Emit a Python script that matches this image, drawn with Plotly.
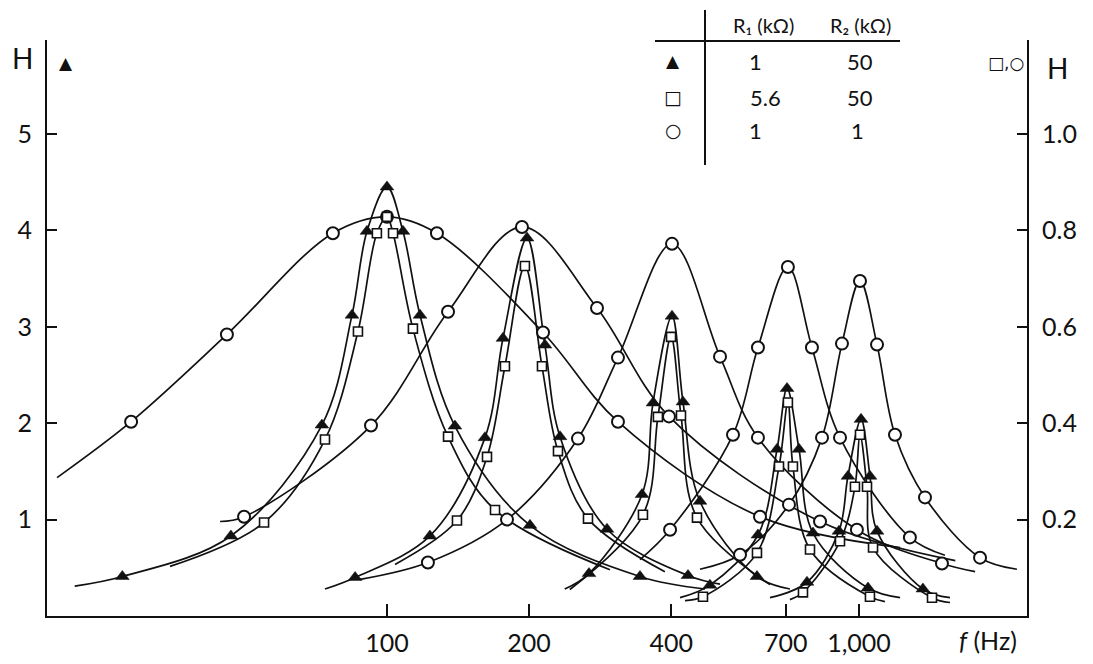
import plotly.graph_objects as go

# ---------------- data ----------------
RES_FREQS = [100, 200, 400, 700, 1000]          # resonance frequencies (Hz)
X_TICKS = [100, 200, 400, 700, 1000]
X_TICKTEXT = ["100", "200", "400", "700", "1,000"]
Y_LEFT_TICKS = [1, 2, 3, 4, 5]
Y_RIGHT_TICKS = [0.2, 0.4, 0.6, 0.8, 1.0]
Y_RIGHT_TICKTEXT = ["0.2", "0.4", "0.6", "0.8", "1.0"]

# ▲  R1 = 1 kΩ, R2 = 50 kΩ  (left axis H)
tri_f_100 = [27.5, 46.7, 72.8, 84.3, 90.7, 100, 108.1, 117.5, 139.3, 200.9, 343.6]
tri_h_100 = [0.41, 0.83, 1.98, 3.12, 3.99, 4.45, 3.99, 3.12, 1.97, 0.94, 0.41]
tri_ends_f_100 = [21.8, 472]
tri_ends_h_100 = [0.31, 0.28]

tri_f_200 = [85.6, 123.3, 161.3, 176.1, 198, 216.1, 232.6, 292.5, 434.3]
tri_h_200 = [0.40, 0.83, 1.85, 2.88, 3.92, 2.81, 1.86, 0.90, 0.42]
tri_ends_f_200 = [73.9, 507.7]
tri_ends_h_200 = [0.28, 0.33]

tri_f_400 = [267.9, 347, 366.1, 401.7, 423.8, 460.4, 608]
tri_h_400 = [0.44, 1.26, 2.21, 3.11, 2.22, 1.19, 0.41]
tri_ends_f_400 = [238, 714]
tri_ends_h_400 = [0.28, 0.28]

tri_f_700 = [483.3, 610.9, 670.6, 704, 746.4, 799, 1045]
tri_h_700 = [0.32, 0.84, 1.73, 2.36, 1.73, 0.86, 0.29]
tri_ends_f_700 = [417.7, 1222]
tri_ends_h_700 = [0.19, 0.19]

tri_f_1000 = [776, 907, 947.8, 1010, 1055, 1092, 1366]
tri_h_1000 = [0.35, 0.88, 1.45, 2.04, 1.45, 0.88, 0.28]
tri_ends_f_1000 = [647.8, 1559]
tri_ends_h_1000 = [0.19, 0.19]

# □  R1 = 5.6 kΩ, R2 = 50 kΩ  (right axis H)
sq_f_100 = [54.9, 73.9, 86.8, 95.2, 100, 103, 113.5, 134.7, 169.4]
sq_h_100 = [0.194, 0.366, 0.59, 0.794, 0.828, 0.794, 0.596, 0.372, 0.22]
sq_ends_f_100 = [34.7, 296.8]
sq_ends_h_100 = [0.103, 0.096]

sq_f_200 = [140.7, 162.9, 177.8, 196, 213, 230.3, 266.6]
sq_h_200 = [0.198, 0.33, 0.518, 0.726, 0.518, 0.342, 0.202]
sq_ends_f_200 = [104, 388]
sq_ends_h_200 = [0.107, 0.092]

sq_f_400 = [348.6, 375, 399.8, 419.7, 453.7]
sq_h_400 = [0.21, 0.413, 0.579, 0.416, 0.204]
sq_ends_f_400 = [244, 647.8]
sq_ends_h_400 = [0.055, 0.065]

sq_f_700 = [467.2, 608, 677, 707, 724.6, 787.5, 1055]
sq_h_700 = [0.04, 0.131, 0.31, 0.443, 0.31, 0.138, 0.04]
sq_ends_f_700 = [427.9, 1135]
sq_ends_h_700 = [0.032, 0.03]

sq_f_1000 = [761, 911.6, 980.6, 1005, 1040, 1071, 1428]
sq_h_1000 = [0.049, 0.155, 0.268, 0.376, 0.268, 0.142, 0.038]
sq_ends_f_1000 = [714, 1559]
sq_ends_h_1000 = [0.034, 0.028]

# ○  R1 = 1 kΩ, R2 = 1 kΩ  (right axis H)
ci_f_100 = [28.7, 45.8, 76.8, 100, 127.6, 214.1, 308.6, 617]
ci_h_100 = [0.403, 0.584, 0.794, 0.828, 0.794, 0.588, 0.403, 0.206]
ci_ends_f_100 = [20.0, 1222]
ci_ends_h_100 = [0.287, 0.142]

ci_f_200 = [49.8, 92.5, 134.7, 193.2, 278.6, 395.8, 827]
ci_h_200 = [0.206, 0.395, 0.631, 0.807, 0.639, 0.414, 0.196]
ci_ends_f_200 = [44.3, 1600]
ci_ends_h_200 = [0.196, 0.115]

ci_f_400 = [122.1, 179.6, 253.9, 308.6, 401.7, 507.7, 610.9, 990, 1499]
ci_h_400 = [0.111, 0.2, 0.368, 0.536, 0.772, 0.538, 0.37, 0.179, 0.109]
ci_ends_f_400 = [87.7, 1762]
ci_ends_h_400 = [0.076, 0.092]

ci_f_700 = [397.9, 540.9, 610.9, 707, 795, 911.6, 1282]
ci_h_700 = [0.179, 0.376, 0.557, 0.724, 0.557, 0.37, 0.163]
ci_ends_f_700 = [343.6, 1521]
ci_ends_h_700 = [0.117, 0.126]

ci_f_1000 = [559.7, 710.7, 835, 920.4, 1005, 1092, 1192, 1380, 1805]
ci_h_1000 = [0.127, 0.231, 0.37, 0.565, 0.695, 0.563, 0.376, 0.246, 0.121]
ci_ends_f_1000 = [460.4, 2161]
ci_ends_h_1000 = [0.097, 0.097]

TRI = [(tri_f_100, tri_h_100, tri_ends_f_100, tri_ends_h_100),
       (tri_f_200, tri_h_200, tri_ends_f_200, tri_ends_h_200),
       (tri_f_400, tri_h_400, tri_ends_f_400, tri_ends_h_400),
       (tri_f_700, tri_h_700, tri_ends_f_700, tri_ends_h_700),
       (tri_f_1000, tri_h_1000, tri_ends_f_1000, tri_ends_h_1000)]
SQ = [(sq_f_100, sq_h_100, sq_ends_f_100, sq_ends_h_100),
      (sq_f_200, sq_h_200, sq_ends_f_200, sq_ends_h_200),
      (sq_f_400, sq_h_400, sq_ends_f_400, sq_ends_h_400),
      (sq_f_700, sq_h_700, sq_ends_f_700, sq_ends_h_700),
      (sq_f_1000, sq_h_1000, sq_ends_f_1000, sq_ends_h_1000)]
CI = [(ci_f_100, ci_h_100, ci_ends_f_100, ci_ends_h_100),
      (ci_f_200, ci_h_200, ci_ends_f_200, ci_ends_h_200),
      (ci_f_400, ci_h_400, ci_ends_f_400, ci_ends_h_400),
      (ci_f_700, ci_h_700, ci_ends_f_700, ci_ends_h_700),
      (ci_f_1000, ci_h_1000, ci_ends_f_1000, ci_ends_h_1000)]

INK = "#111111"
FONT = "Lato, 'DejaVu Sans', sans-serif"
SYM_FONT = "'DejaVu Sans', sans-serif"

fig = go.Figure()


def line_points(f, h, ef, eh):
    pts = sorted(zip([ef[0]] + f + [ef[1]], [eh[0]] + h + [eh[1]]))
    return [p[0] for p in pts], [p[1] for p in pts]


# curves (lines)
for group, axis in ((TRI, "y"), (SQ, "y2"), (CI, "y2")):
    for f, h, ef, eh in group:
        lx, ly = line_points(f, h, ef, eh)
        fig.add_trace(go.Scatter(x=lx, y=ly, mode="lines", yaxis=axis,
                                 line=dict(color=INK, width=1.7, shape="spline", smoothing=1.0),
                                 hoverinfo="skip", showlegend=False))

# markers
for f, h, ef, eh in CI:
    fig.add_trace(go.Scatter(x=f, y=h, mode="markers", yaxis="y2",
                             marker=dict(symbol="circle", size=12, color="white",
                                         line=dict(color=INK, width=2)),
                             showlegend=False))
for f, h, ef, eh in SQ:
    fig.add_trace(go.Scatter(x=f, y=h, mode="markers", yaxis="y2",
                             marker=dict(symbol="square", size=9, color="white",
                                         line=dict(color=INK, width=1.6)),
                             showlegend=False))
for f, h, ef, eh in TRI:
    fig.add_trace(go.Scatter(x=f, y=h, mode="markers", yaxis="y",
                             marker=dict(symbol="triangle-up", size=12, color=INK,
                                         line=dict(color=INK, width=0.5)),
                             showlegend=False))

# ---------------- layout ----------------
# plot-area edges in screen pixels; the page body adds an 8 px offset
OFF = 8
L, R, T, B = 47, 1027, 40, 616
W, H = 1093 - OFF, 664 - OFF


def px(x):
    return (x - L) / (R - L)


def py(y):
    return (B - y) / (B - T)


fig.update_layout(
    width=W, height=H,
    margin=dict(l=L - OFF, r=W - (R - OFF), t=T - OFF, b=H - (B - OFF), autoexpand=False),
    paper_bgcolor="white", plot_bgcolor="white",
    font=dict(family=FONT, color=INK, size=22),
    xaxis=dict(type="log", range=[1.2797, 3.356], tickvals=X_TICKS, ticktext=X_TICKTEXT,
               ticks="inside", ticklen=12, tickwidth=2, tickcolor=INK, automargin=False,
               showline=True, linecolor=INK, linewidth=2, showgrid=False, zeroline=False,
               tickfont=dict(size=25, family=FONT), ticklabelstandoff=4),
    yaxis=dict(range=[0, 5.974], tickvals=Y_LEFT_TICKS, ticks="inside", ticklen=10,
               tickwidth=2, tickcolor=INK, showline=True, linecolor=INK, linewidth=2,
               showgrid=False, zeroline=False, tickfont=dict(size=25, family=FONT),
               ticklabelstandoff=8, automargin=False),
    yaxis2=dict(range=[0, 5.974 / 5], overlaying="y", side="right",
                tickvals=Y_RIGHT_TICKS, ticktext=Y_RIGHT_TICKTEXT,
                ticks="inside", ticklen=10, tickwidth=2, tickcolor=INK, automargin=False,
                showline=True, linecolor=INK, linewidth=2, showgrid=False, zeroline=False,
                tickfont=dict(size=25, family=FONT), ticklabelstandoff=8),
    showlegend=False,
)

ann = []


def text(x, y, s, size=20, family=FONT):
    ann.append(dict(x=px(x), y=py(y), xref="paper", yref="paper", text=s, showarrow=False,
                    xanchor="center", yanchor="middle",
                    font=dict(size=size, family=family, color=INK)))


text(22, 58, "H", 28)
text(66, 63, "▲", 17, SYM_FONT)
text(1006, 63, "□,○", 17, SYM_FONT)
text(1057, 68, "H", 28)
text(988, 640, "<i>f</i> (Hz)", 25)

# table
text(763, 25, "R₁ (kΩ)", 20)
text(860, 25, "R₂ (kΩ)", 20)
text(673, 61, "▲", 17, SYM_FONT)
text(673, 97, "□", 19, SYM_FONT)
text(673, 130, "○", 19, SYM_FONT)
text(755, 61, "1", 22)
text(860, 62, "50", 22)
text(765, 97, "5.6", 22)
text(860, 97, "50", 22)
text(755, 130, "1", 22)
text(857, 130, "1", 22)
fig.update_layout(annotations=ann)

fig.add_shape(type="line", xref="paper", yref="paper", x0=px(705), x1=px(705),
              y0=py(10), y1=py(165), line=dict(color=INK, width=2))
fig.add_shape(type="line", xref="paper", yref="paper", x0=px(655), x1=px(900),
              y0=py(41), y1=py(41), line=dict(color=INK, width=2))

fig.write_html("out.html")
